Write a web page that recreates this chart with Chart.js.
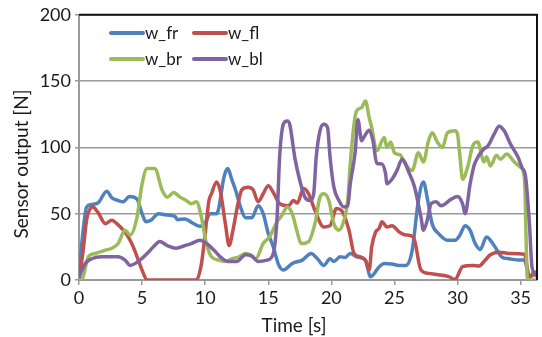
<!DOCTYPE html>
<html>
<head>
<meta charset="utf-8">
<script src="https://cdn.jsdelivr.net/npm/chart.js@4.4.1/dist/chart.umd.min.js"></script>
<style>
  html, body { margin: 0; padding: 0; background: #fff; }
  #wrap { width: 542px; height: 337px; }
</style>
</head>
<body>
<div id="wrap"><canvas id="sensorChart" width="542" height="337"></canvas></div>
<script>
// time [s] and sensor output [N]
const frTime = [0, 0.3, 0.6, 1.0, 1.5, 2.2, 2.6, 3.1, 3.5, 4.0, 4.6, 5.0, 5.3, 5.7, 6.3, 7.0, 7.6, 7.8, 8.4, 9.0, 9.6, 10.0, 10.4, 10.9, 11.05, 11.5, 11.8, 12.1, 12.4, 12.8, 13.2, 13.7, 14.2, 14.6, 15.0, 15.4, 15.8, 16.2, 16.9, 17.7, 18.4, 18.9, 19.4, 19.9, 20.2, 20.7, 21.1, 21.5, 22.0, 22.7, 23.1, 23.8, 24.2, 24.8, 25.4, 25.9, 26.4, 26.9, 27.3, 27.6, 28.0, 28.5, 29.2, 29.8, 30.2, 30.6, 31.0, 31.4, 31.8, 32.3, 32.9, 33.5, 34.1, 34.9, 35.3, 35.7, 36.1, 36.3];
const frValues = [5, 35, 55, 57, 58, 67, 62, 60, 59, 63, 61, 50, 44, 45, 50, 49, 48, 45.5, 46, 43, 40.5, 43, 50, 50, 53, 78, 84, 76, 68, 55, 47, 47, 56, 50, 35, 25, 12, 7.5, 12.5, 15, 20, 16, 11, 16, 14, 17.5, 17, 20, 17.5, 15, 2.5, 10, 12.5, 12, 11, 11, 22, 60, 74, 62, 42, 35, 30, 30, 34, 41, 37.5, 27.5, 23, 32.5, 26, 17.5, 16, 15, 15, 2.5, 6, 5];

const flTime = [0, 0.3, 0.6, 0.9, 1.1, 1.5, 2.1, 2.6, 3.0, 3.65, 3.9, 4.3, 4.7, 5.1, 5.4, 6, 7, 8, 9.3, 9.7, 10.0, 10.3, 10.5, 10.9, 11.2, 11.6, 11.9, 12.2, 12.6, 12.9, 13.4, 13.8, 14.2, 14.6, 15.0, 15.4, 15.9, 16.6, 17.0, 17.3, 17.8, 18.2, 18.7, 19.4, 19.9, 20.4, 20.8, 21.4, 21.8, 22.3, 22.7, 23.0, 23.2, 23.5, 23.8, 24.0, 24.4, 24.8, 25.4, 25.9, 26.5, 27.1, 27.7, 28.5, 29.3, 29.8, 30.4, 31.2, 31.7, 32.2, 32.6, 33.3, 34.1, 35.3, 35.7, 36.1, 36.3];
const flValues = [0, 20, 45, 54, 55, 51, 42.5, 45, 42.5, 36, 32.5, 25, 15, 5, 0, 0, 0, 0, 0, 12, 35, 60, 65, 74, 67, 42.5, 26, 37.5, 57.5, 68, 70, 68, 59, 65, 71, 66, 57.5, 56, 60, 58, 69, 65, 52.5, 40, 41, 54, 52.5, 37.5, 20, 17.5, 15, 7.5, 25, 36, 39, 44, 40, 41, 36, 34, 32.5, 7.5, 5, 4, 2.5, 0.5, 10, 11, 10.5, 15, 19, 21, 20, 19.5, 2.5, 4, 3];

const brTime = [0, 0.2, 0.74, 1.27, 2.1, 2.6, 3.1, 3.65, 4.05, 4.6, 5.0, 5.4, 6.0, 6.6, 7.0, 7.5, 8.0, 8.5, 8.9, 9.3, 9.7, 10.1, 10.5, 11.1, 11.6, 12.1, 12.7, 13.2, 13.6, 14.0, 14.6, 15.1, 15.7, 16.1, 16.5, 16.9, 17.3, 17.6, 18.2, 18.7, 19.1, 19.4, 19.8, 20.2, 20.6, 21.0, 21.3, 21.5, 21.8, 22.0, 22.4, 22.7, 23.0, 23.2, 23.6, 24.2, 24.4, 24.7, 25.0, 25.5, 25.7, 26.4, 26.9, 27.3, 27.7, 28.0, 28.4, 28.8, 29.2, 29.8, 30.0, 30.2, 30.4, 30.8, 31.2, 31.6, 32.1, 32.3, 32.6, 33.1, 33.4, 33.9, 34.5, 35.0, 35.3, 35.55, 36.3];
const brValues = [0, 0, 17.5, 20, 22.5, 24, 27.5, 37.5, 34, 47.5, 72.5, 84, 84, 67.5, 62.5, 66, 62.5, 60, 57.5, 59, 47.5, 27.5, 17.5, 15, 14, 16, 17.5, 20, 19, 16, 27.5, 32.5, 44, 49, 55, 50, 36, 27.5, 29, 42.5, 62.5, 65, 60, 42.5, 37.5, 45, 60, 87.5, 117.5, 127.5, 130, 135, 122.5, 115, 97.5, 107.5, 100, 104, 96, 94, 90, 82.5, 96, 89, 105, 111, 104, 100, 111, 112.5, 110, 92.5, 76, 85, 101, 104, 89, 93, 86, 94, 91, 95, 89, 85, 77.5, 0, 0];

const blTime = [0, 0.5, 1.0, 1.8, 3.1, 3.65, 4.05, 4.7, 5.4, 5.9, 6.4, 7.0, 7.7, 8.4, 8.9, 9.6, 10.1, 10.7, 11.2, 11.8, 12.5, 13.2, 13.7, 14.2, 14.9, 15.4, 15.7, 15.9, 16.2, 16.5, 16.7, 17.0, 17.1, 17.5, 17.9, 18.3, 18.6, 18.8, 19.1, 19.4, 19.7, 19.9, 20.2, 20.6, 21.0, 21.3, 21.5, 21.9, 22.1, 22.4, 22.6, 23.0, 23.3, 23.6, 24.0, 24.3, 24.4, 24.8, 25.2, 25.6, 26.2, 26.6, 27.1, 27.3, 27.6, 27.9, 28.3, 28.7, 29.5, 30.0, 30.4, 30.6, 31.0, 31.3, 31.6, 32.1, 32.4, 32.9, 33.3, 33.7, 34.2, 34.8, 35.1, 35.4, 35.7, 35.9, 36.2];
const blValues = [2.5, 12.5, 16, 17.5, 17.5, 15, 11, 14, 20, 25, 29, 26, 24, 26, 27.5, 30, 27.5, 22.5, 17.5, 14, 14, 19, 18, 14, 15, 20, 47.5, 92.5, 117.5, 120, 117.5, 99, 92.5, 75, 62.5, 60, 65, 92.5, 112.5, 117.5, 115, 92.5, 70, 60, 55, 56, 72.5, 97.5, 121, 105, 108, 113, 105, 88, 87.5, 80, 72.5, 76, 82.5, 91, 80, 70, 47.5, 37.5, 45, 57.5, 59, 56, 61, 63, 57.5, 50, 72.5, 86, 92.5, 99, 101, 110, 116, 112.5, 102.5, 92.5, 85, 77.5, 42.5, 10, 4];

const xTicks = [0, 5, 10, 15, 20, 25, 30, 35];
const seriesNames = ['w_fr', 'w_fl', 'w_br', 'w_bl'];
const seriesColors = ['#4F81BD', '#C0504D', '#9BBB59', '#8064A2'];
const xTitle = 'Time [s]';
const yTitle = 'Sensor output [N]';

const FONT = 'Lato, "DejaVu Sans", sans-serif';

function toPoints(times, values) {
    return times.map((t, i) => ({ x: t, y: values[i] }));
}

// legend inside the plot, two columns
const insideLegend = {
    id: 'insideLegend',
    afterDraw(chart) {
        const ctx = chart.ctx;
        const cols = [111, 194];
        const rows = [33, 59];
        ctx.save();
        ctx.font = '17px ' + FONT;
        ctx.textBaseline = 'middle';
        ctx.fillStyle = '#1a1a1a';
        seriesNames.forEach((name, i) => {
            const x = cols[i % 2];
            const y = rows[Math.floor(i / 2)];
            ctx.strokeStyle = seriesColors[i];
            ctx.lineWidth = 4;
            ctx.lineCap = 'round';
            ctx.beginPath();
            ctx.moveTo(x, y);
            ctx.lineTo(x + 32, y);
            ctx.stroke();
            ctx.fillText(name, x + 34, y + 1);
        });
        ctx.restore();
    }
};

// black frame on top and right, plus the axis titles (placed like the original, a bit off-centre)
const plotFrame = {
    id: 'plotFrame',
    afterDraw(chart) {
        const { ctx, chartArea } = chart;
        ctx.save();
        ctx.strokeStyle = '#111';
        ctx.lineWidth = 2;
        ctx.beginPath();
        ctx.moveTo(chartArea.left, chartArea.top);
        ctx.lineTo(chartArea.right, chartArea.top);
        ctx.lineTo(chartArea.right, chartArea.bottom);
        ctx.stroke();

        ctx.fillStyle = '#1a1a1a';
        ctx.font = '19px ' + FONT;
        ctx.textAlign = 'center';
        ctx.textBaseline = 'middle';
        ctx.fillText(xTitle, 294, 326);
        ctx.translate(22, 164);
        ctx.rotate(-Math.PI / 2);
        ctx.fillText(yTitle, 0, 0);
        ctx.restore();
    }
};

const ctx = document.getElementById('sensorChart').getContext('2d');
new Chart(ctx, {
    type: 'line',
    data: {
        datasets: [
            { label: seriesNames[0], data: toPoints(frTime, frValues), order: 3 },
            { label: seriesNames[1], data: toPoints(flTime, flValues), order: 2 },
            { label: seriesNames[2], data: toPoints(brTime, brValues), order: 1 },
            { label: seriesNames[3], data: toPoints(blTime, blValues), order: 0 },
        ].map((ds, i) => Object.assign(ds, {
            borderColor: seriesColors[i],
            backgroundColor: seriesColors[i],
            borderWidth: 3.5,
            pointRadius: 0,
            cubicInterpolationMode: 'monotone',
            fill: false,
        })),
    },
    options: {
        responsive: false,
        animation: false,
        layout: { padding: { top: 14, right: 5, left: 0, bottom: 0 } },
        plugins: {
            legend: { display: false },
            tooltip: { enabled: false },
        },
        scales: {
            x: {
                type: 'linear',
                min: 0,
                max: 36.3,
                afterBuildTicks: scale => { scale.ticks = xTicks.map(v => ({ value: v })); },
                afterFit: scale => { scale.height = 57; },
                grid: { drawOnChartArea: false, drawTicks: true, tickLength: 5, color: '#9a9a9a', lineWidth: 1.5 },
                border: { color: '#9a9a9a', width: 2 },
                ticks: { font: { family: FONT, size: 18 }, color: '#1a1a1a', padding: 2, maxRotation: 0 },
            },
            y: {
                min: 0,
                max: 200,
                afterFit: scale => { scale.width = 79; },
                ticks: { stepSize: 50, font: { family: FONT, size: 18 }, color: '#1a1a1a', padding: 4 },
                grid: { color: '#9a9a9a', lineWidth: 1.5, tickLength: 4 },
                border: { color: '#9a9a9a', width: 2 },
            },
        },
    },
    plugins: [insideLegend, plotFrame],
});
</script>
</body>
</html>
